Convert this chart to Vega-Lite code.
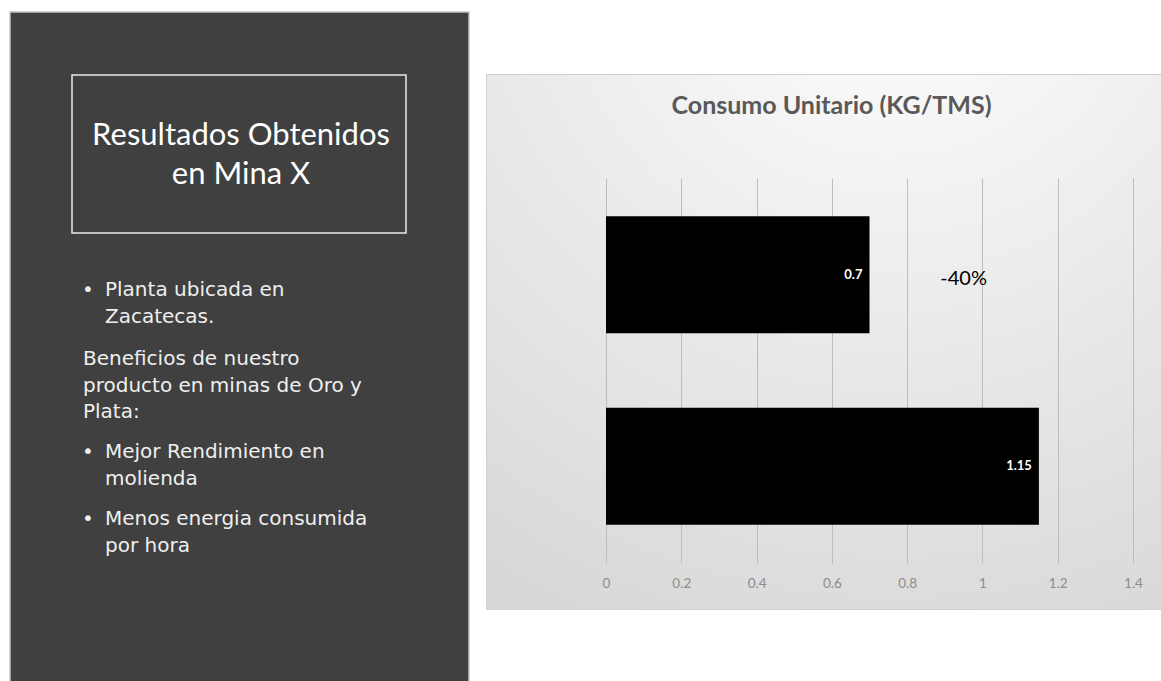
{
  "$schema": "https://vega.github.io/schema/vega-lite/v6.json",
  "background": "#ffffff",
  "padding": {"left": 9, "top": 11, "right": 0, "bottom": 0},
  "spacing": 15,
  "config": {"view": {"stroke": null}, "font": "Lato"},
  "hconcat": [
    {
      "width": 459,
      "height": 670,
      "view": {"fill": "#404040", "stroke": "#c4c4c4", "strokeWidth": 1.5},
      "layer": [
        {
          "data": {"values": [{"elemento": "marco del título"}]},
          "mark": {"type": "rect", "x": 62, "y": 63, "x2": 396, "y2": 221, "filled": false, "color": "#e8e8e8", "strokeWidth": 1.5},
          "encoding": {}
        },
        {
          "data": {"values": [{"t": "Resultados Obtenidos|en Mina X"}]},
          "mark": {"type": "text", "x": 231, "y": 133, "align": "center", "baseline": "alphabetic", "lineBreak": "|", "lineHeight": 39, "font": "Lato", "fontWeight": 400, "fontSize": 31, "color": "#ffffff"},
          "encoding": {"text": {"field": "t", "type": "nominal"}}
        },
        {
          "data": {"values": [{"t": "•"}]},
          "mark": {"type": "text", "x": 72, "y": 284, "align": "left", "baseline": "alphabetic", "font": "DejaVu Sans", "fontSize": 20, "color": "#efefef"},
          "encoding": {"text": {"field": "t", "type": "nominal"}}
        },
        {
          "data": {"values": [{"t": "Planta ubicada en|Zacatecas."}]},
          "mark": {"type": "text", "x": 95, "y": 284, "align": "left", "baseline": "alphabetic", "lineBreak": "|", "lineHeight": 27, "font": "DejaVu Sans", "fontSize": 20, "color": "#efefef"},
          "encoding": {"text": {"field": "t", "type": "nominal"}}
        },
        {
          "data": {"values": [{"t": "Beneficios de nuestro|producto en minas de Oro y|Plata:"}]},
          "mark": {"type": "text", "x": 73, "y": 353, "align": "left", "baseline": "alphabetic", "lineBreak": "|", "lineHeight": 26.5, "font": "DejaVu Sans", "fontSize": 20, "color": "#efefef"},
          "encoding": {"text": {"field": "t", "type": "nominal"}}
        },
        {
          "data": {"values": [{"t": "•"}]},
          "mark": {"type": "text", "x": 72, "y": 446, "align": "left", "baseline": "alphabetic", "font": "DejaVu Sans", "fontSize": 20, "color": "#efefef"},
          "encoding": {"text": {"field": "t", "type": "nominal"}}
        },
        {
          "data": {"values": [{"t": "Mejor Rendimiento en|molienda"}]},
          "mark": {"type": "text", "x": 95, "y": 446, "align": "left", "baseline": "alphabetic", "lineBreak": "|", "lineHeight": 27, "font": "DejaVu Sans", "fontSize": 20, "color": "#efefef"},
          "encoding": {"text": {"field": "t", "type": "nominal"}}
        },
        {
          "data": {"values": [{"t": "•"}]},
          "mark": {"type": "text", "x": 72, "y": 513, "align": "left", "baseline": "alphabetic", "font": "DejaVu Sans", "fontSize": 20, "color": "#efefef"},
          "encoding": {"text": {"field": "t", "type": "nominal"}}
        },
        {
          "data": {"values": [{"t": "Menos energia consumida|por hora"}]},
          "mark": {"type": "text", "x": 95, "y": 513, "align": "left", "baseline": "alphabetic", "lineBreak": "|", "lineHeight": 27, "font": "DejaVu Sans", "fontSize": 20, "color": "#efefef"},
          "encoding": {"text": {"field": "t", "type": "nominal"}}
        }
      ]
    },
    {
      "spacing": 0,
      "vconcat": [
        {
          "width": 1,
          "height": 61,
          "data": {"values": []},
          "mark": "text",
          "encoding": {},
          "view": {"stroke": null, "fill": null}
        },
        {
          "width": 675,
          "height": 535,
          "view": {"stroke": "#d0d0d0", "strokeWidth": 1, "fill": {"expr": "{gradient: 'radial', x1: 0.6, y1: -0.1, r1: 0, x2: 0.6, y2: -0.1, r2: 1.1, stops: [{offset: 0, color: '#ffffff'}, {offset: 1, color: '#d8d8d8'}]}"}},
          "title": {"text": "Consumo Unitario (KG/TMS)", "font": "Lato", "fontSize": 25, "fontWeight": "bold", "color": "#595959", "anchor": "middle", "frame": "group", "baseline": "alphabetic", "offset": -65, "dx": 8},
          "data": {"values": [
            {"caso": "Con nuestro producto", "consumo": 0.7},
            {"caso": "Producto anterior", "consumo": 1.15}
          ]},
          "layer": [
            {
              "mark": {"type": "bar", "color": "#000000"},
              "encoding": {
                "y": {"field": "caso", "type": "nominal", "sort": null, "scale": {"range": [104, 489], "paddingInner": 0.39, "paddingOuter": 0.2}, "axis": null},
                "x": {"field": "consumo", "type": "quantitative", "scale": {"domain": [0, 1.4], "range": [120, 647], "nice": false},
                  "axis": {"orient": "top", "values": [0, 0.2, 0.4, 0.6, 0.8, 1, 1.2, 1.4], "format": "~g", "domain": false, "ticks": false, "grid": true, "gridColor": "#bdbdbd", "gridWidth": 1, "labelFont": "Lato", "labelFontWeight": 400, "labelFontSize": 13.5, "labelColor": "#8c8c8c", "labelPadding": -516, "title": null, "labelFlush": false}}
              }
            },
            {
              "mark": {"type": "text", "align": "right", "dx": -7, "baseline": "middle", "font": "Lato", "fontWeight": "bold", "fontSize": 13, "color": "#ffffff"},
              "encoding": {
                "y": {"field": "caso", "type": "nominal", "sort": null},
                "x": {"field": "consumo", "type": "quantitative"},
                "text": {"field": "consumo", "type": "quantitative", "format": "~g"}
              }
            },
            {
              "data": {"values": [{"etiqueta": "-40%", "caso": "Con nuestro producto"}]},
              "mark": {"type": "text", "align": "center", "baseline": "middle", "dy": 4, "font": "Lato", "fontSize": 20, "color": "#000000"},
              "encoding": {
                "y": {"field": "caso", "type": "nominal", "sort": null},
                "x": {"datum": 0.95},
                "text": {"field": "etiqueta", "type": "nominal"}
              }
            }
          ]
        }
      ]
    }
  ]
}
